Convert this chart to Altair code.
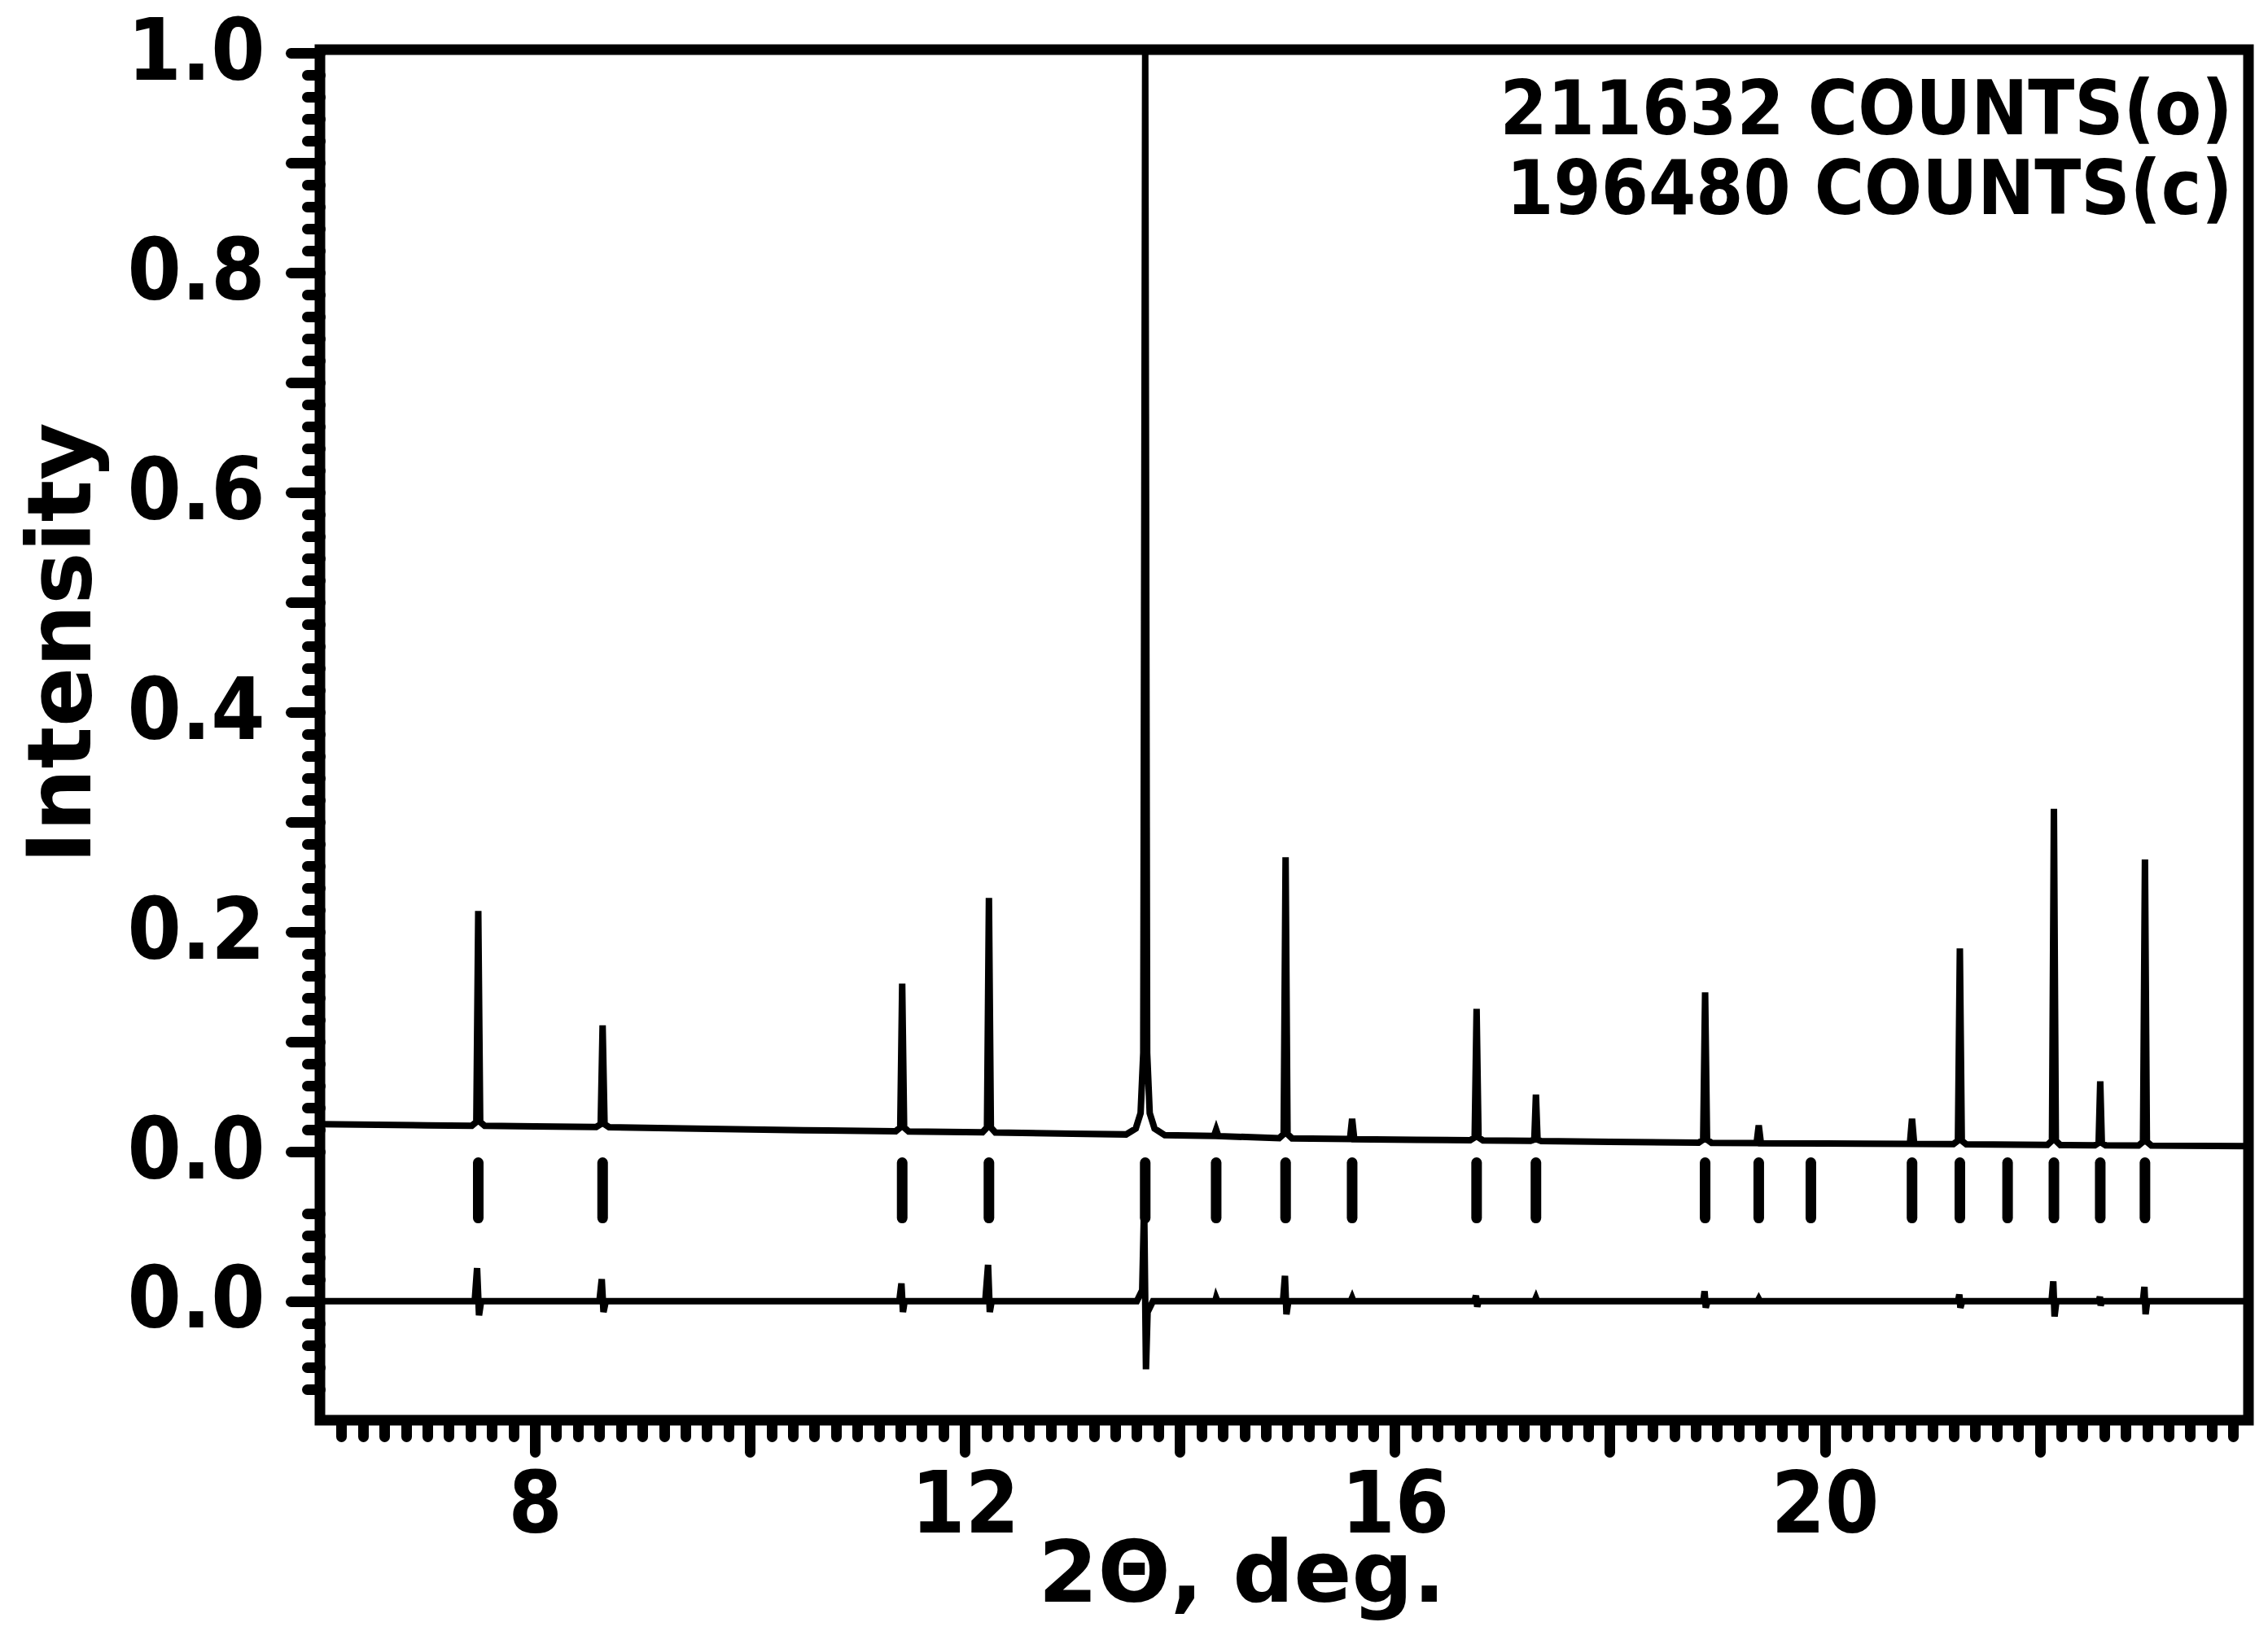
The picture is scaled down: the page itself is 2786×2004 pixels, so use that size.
import altair as alt
import pandas as pd

# ---------------- data ----------------
obs_x = [6.0, 7.0, 7.413, 7.455, 7.473, 7.491, 7.533, 8.0, 8.57, 8.612, 8.63, 8.648, 8.69,
         9.5, 10.5, 11.357, 11.399, 11.417, 11.435, 11.477, 12.164, 12.206, 12.224, 12.242, 12.284,
         13.0, 13.50, 13.59, 13.635, 13.66, 13.678, 13.696, 13.72, 13.765, 13.86,
         14.318, 14.338, 14.358, 14.924, 14.966, 14.984, 15.002, 15.044, 15.583, 15.603, 15.623,
         16.2, 16.701, 16.743, 16.761, 16.779, 16.821, 17.263, 17.298, 17.313, 17.328, 17.363,
         18.0, 18.827, 18.869, 18.887, 18.905, 18.947, 19.366, 19.386, 19.406, 20.0,
         20.792, 20.812, 20.832, 21.197, 21.239, 21.257, 21.275, 21.317,
         22.072, 22.114, 22.132, 22.150, 22.192, 22.513, 22.548, 22.563, 22.578, 22.613,
         22.919, 22.961, 22.979, 22.997, 23.039, 23.942]
obs_y = [0.025, 0.0240, 0.0236, 0.027, 0.219, 0.027, 0.0235, 0.0230, 0.0225, 0.025, 0.115, 0.025, 0.0223,
         0.0210, 0.0195, 0.0186, 0.022, 0.153, 0.022, 0.0184, 0.0177, 0.022, 0.231, 0.022, 0.0175,
         0.0163, 0.0157, 0.021, 0.035, 0.090, 1.000, 0.090, 0.035, 0.021, 0.0150,
         0.0143, 0.020, 0.0142, 0.0123, 0.016, 0.268, 0.016, 0.0121, 0.0116, 0.030, 0.0114,
         0.0108, 0.0104, 0.013, 0.130, 0.013, 0.0102, 0.0098, 0.011, 0.052, 0.011, 0.0096,
         0.0089, 0.0082, 0.011, 0.145, 0.011, 0.0080, 0.0078, 0.024, 0.0077, 0.0075,
         0.0071, 0.030, 0.0070, 0.0069, 0.010, 0.185, 0.010, 0.0067,
         0.0062, 0.010, 0.312, 0.010, 0.0060, 0.0058, 0.008, 0.064, 0.008, 0.0058,
         0.0056, 0.009, 0.266, 0.009, 0.0055, 0.0050]

diff_x = [6.0, 7.44, 7.462, 7.480, 7.50, 8.60, 8.622, 8.638, 8.66,
          11.39, 11.410, 11.424, 11.44, 12.19, 12.216, 12.232, 12.25,
          13.60, 13.650, 13.668, 13.685, 13.70, 13.75, 14.33, 14.338, 14.35,
          14.96, 14.978, 14.992, 15.01, 15.59, 15.603, 15.615,
          16.74, 16.755, 16.767, 16.78, 17.30, 17.313, 17.325,
          18.87, 18.882, 18.893, 18.91, 19.375, 19.386, 19.397, 21.24, 21.252, 21.262, 21.28,
          22.11, 22.126, 22.138, 22.155, 22.55, 22.560, 22.567, 22.58,
          22.96, 22.974, 22.985, 23.00, 23.942]
diff_y = [0.000, 0.000, 0.030, -0.013, 0.000, 0.000, 0.020, -0.010, 0.000,
          0.000, 0.016, -0.010, 0.000, 0.000, 0.033, -0.010, 0.000,
          0.000, 0.010, 0.090, -0.062, -0.010, 0.000, 0.000, 0.003, 0.000,
          0.000, 0.023, -0.012, 0.000, 0.000, 0.003, 0.000,
          0.000, 0.005, -0.005, 0.000, 0.000, 0.003, 0.000,
          0.000, 0.009, -0.006, 0.000, 0.000, 0.002, 0.000, 0.000, 0.006, -0.006, 0.000,
          0.000, 0.018, -0.014, 0.000, 0.000, 0.004, -0.004, 0.000,
          0.000, 0.013, -0.012, 0.000, 0.000]

refl_pos = [7.473, 8.630, 11.417, 12.224, 13.678, 14.338, 14.984, 15.603, 16.761, 17.313,
            18.887, 19.386, 19.871, 20.812, 21.257, 21.701, 22.132, 22.563, 22.979]

counts_lines = ["211632 COUNTS(o)", "196480 COUNTS(c)"]

x_major = [8, 10, 12, 14, 16, 18, 20, 22]
x_minor = [round(6 + 0.2 * i, 1) for i in range(1, 90) if (i % 10) != 0]
y_major = [0.0, 0.1, 0.2, 0.3, 0.4, 0.5, 0.6, 0.7, 0.8, 0.9, 1.0]
diff_zero = -0.136
y_minor = [round(0.02 * i, 2) for i in range(1, 50) if i % 5 != 0] + \
          [-0.056, -0.076, -0.096, -0.116, -0.156, -0.176, -0.196, -0.216]

X_DOM = [6.0, 23.942]
Y_DOM = [-0.2444, 1.003]

# ---------------- chart ----------------
obs_df = pd.DataFrame({"x": obs_x, "y": obs_y})
diff_df = pd.DataFrame({"x": diff_x, "d": diff_y})
refl_df = pd.DataFrame({"pos": refl_pos})

xs = alt.Scale(domain=X_DOM, nice=False, zero=False)
ys = alt.Scale(domain=Y_DOM, nice=False, zero=False)

LABEL_FONT = "DejaVu Sans Condensed, DejaVu Sans"
TITLE_FONT = "DejaVu Sans"

x_axis_major = alt.Axis(
    orient="bottom", values=x_major, tickSize=39, tickWidth=13, tickCap="round",
    tickColor="black", domain=False, grid=False, labelOverlap=False, labelFlush=False,
    labelExpr="datum.value % 4 == 0 ? datum.label : ''",
    labelFont=LABEL_FONT, labelFontSize=106, labelFontWeight="bold", labelColor="black",
    labelBaseline="alphabetic", labelPadding=98,
    title="2Θ, deg.", titleFont=TITLE_FONT, titleFontSize=105, titleFontWeight="bold",
    titleColor="black", titleX=1132, titleY=222, titleAlign="center", titleBaseline="alphabetic",
)
x_axis_minor = alt.Axis(
    orient="bottom", values=x_minor, tickSize=20, tickWidth=13, tickCap="round",
    tickColor="black", domain=False, grid=False, labels=False, title=None,
)
y_axis_major = alt.Axis(
    orient="left", values=y_major + [diff_zero], tickSize=36, tickWidth=13, tickCap="round",
    tickColor="black", domain=False, grid=False, labelOverlap=False, labelFlush=False,
    labelExpr="datum.value < -0.05 ? '0.0' : (round(datum.value * 10) % 2 == 0 ? format(datum.value, '.1f') : '')",
    labelFont=LABEL_FONT, labelFontSize=106, labelFontWeight="bold", labelColor="black",
    labelPadding=32,
    title="Intensity", titleFont=TITLE_FONT, titleFontSize=108, titleFontWeight="bold",
    titleColor="black", titleX=-283, titleY=729, titleAngle=270, titleAlign="center",
    titleBaseline="alphabetic",
)
y_axis_minor = alt.Axis(
    orient="left", values=y_minor, tickSize=16, tickWidth=13, tickCap="round",
    tickColor="black", domain=False, grid=False, labels=False, title=None,
)

obs = alt.Chart(obs_df).mark_line(color="black", strokeWidth=8, clip=True).encode(
    x=alt.X("x:Q", scale=xs, axis=x_axis_major),
    y=alt.Y("y:Q", scale=ys, axis=y_axis_major),
)

diff = alt.Chart(diff_df).transform_calculate(
    yd=f"datum.d + ({diff_zero})"
).mark_line(color="black", strokeWidth=8, clip=True).encode(
    x=alt.X("x:Q", scale=xs, axis=x_axis_minor),
    y=alt.Y("yd:Q", scale=ys, axis=y_axis_minor),
)

refl = alt.Chart(refl_df).mark_rule(color="black", strokeWidth=13, strokeCap="round").encode(
    x=alt.X("pos:Q", scale=xs, axis=None),
    y=alt.YDatum(-0.0100, scale=ys, axis=None),
    y2=alt.datum(-0.0604),
)

def counts_text(txt, yv):
    return alt.Chart(pd.DataFrame({"t": [txt]})).mark_text(
        align="right", baseline="alphabetic", font="DejaVu Sans Condensed, DejaVu Sans",
        fontWeight="bold", fontSize=93, color="black",
    ).encode(
        x=alt.XDatum(23.795, scale=xs, axis=None),
        y=alt.YDatum(yv, scale=ys, axis=None),
        text="t:N",
    )

t1 = counts_text(counts_lines[0], 0.926)
t2 = counts_text(counts_lines[1], 0.8533)

chart = alt.layer(obs, diff, refl, t1, t2).resolve_axis(
    x="independent", y="independent"
).properties(
    width=2369, height=1684,
    autosize=alt.AutoSizeParams(type="none"),
    padding={"left": 385, "top": 53, "right": 16, "bottom": 256},
    background="white",
).configure_view(
    stroke="black", strokeWidth=13,
)

chart.save("out.html", embed_options={"renderer": "svg", "actions": False})
